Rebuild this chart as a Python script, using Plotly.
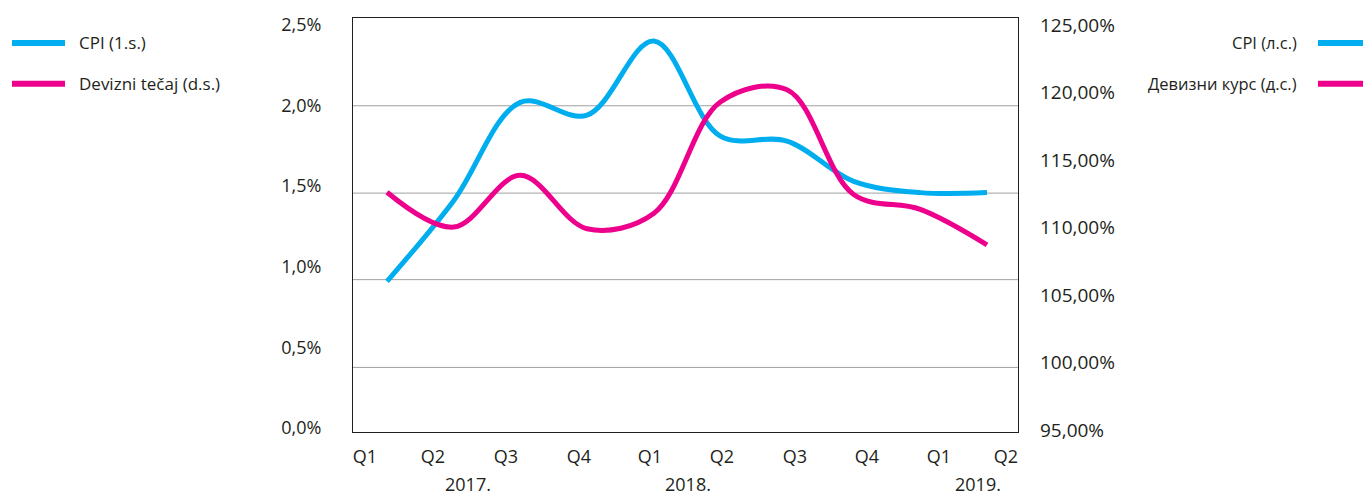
import plotly.graph_objects as go

# ---- data ----
quarters = ["Q1", "Q2", "Q3", "Q4", "Q1", "Q2", "Q3", "Q4", "Q1", "Q2"]
years = ["2017.", "2018.", "2019."]
cpi = [0.91, 1.41, 2.02, 1.94, 2.40, 1.81, 1.78, 1.53, 1.46, 1.46]          # left axis, %
fx_rate = [112.61, 110.03, 113.86, 109.91, 111.04, 119.30, 120.20, 112.44, 111.34, 108.71]  # right axis, %

left_ticks = [0.0, 0.5, 1.0, 1.5, 2.0, 2.5]
right_ticks = [95, 100, 105, 110, 115, 120, 125]
left_ticktext = [f"{v:.1f}%".replace(".", ",") for v in left_ticks]
right_ticktext = [f"{v:.2f}%".replace(".", ",") for v in right_ticks]

legend_left = ["CPI (1.s.)", "Devizni tečaj (d.s.)"]
legend_right = ["CPI (л.с.)", "Девизни курс (д.с.)"]

# ---- layout helpers (positions / styles) ----
x_idx = list(range(len(quarters)))
q_tick_pos = [-0.33, 0.69, 1.785, 2.88, 3.945, 5.025, 6.12, 7.2, 8.28, 9.285]
year_pos = [1.215, 4.515, 8.865]
grid_paper_y = [0.156, 0.368, 0.577, 0.788]

CYAN = "#00AEEF"
MAGENTA = "#EC008C"
TXT = "#231F20"
FONT = "Open Sans"

fig = go.Figure()
fig.add_trace(go.Scatter(x=x_idx, y=cpi, mode="lines", name=legend_left[0],
                         line=dict(color=CYAN, width=5, shape="spline", smoothing=1.0),
                         showlegend=False, yaxis="y", hoverinfo="skip"))
fig.add_trace(go.Scatter(x=x_idx, y=fx_rate, mode="lines", name=legend_left[1],
                         line=dict(color=MAGENTA, width=5, shape="spline", smoothing=1.0),
                         showlegend=False, yaxis="y2", hoverinfo="skip"))

shapes = []
for gy in grid_paper_y:
    shapes.append(dict(type="line", xref="paper", yref="paper", x0=0, x1=1, y0=gy, y1=gy,
                       line=dict(color="#A0A0A0", width=1), layer="below"))

annotations = []
# left legend
for i, (lab, col) in enumerate(zip(legend_left, [CYAN, MAGENTA])):
    yy = [0.9399, 0.8413][i]
    shapes.append(dict(type="line", xref="paper", yref="paper", x0=-0.5128, x1=-0.4331,
                       y0=yy, y1=yy, line=dict(color=col, width=6)))
    annotations.append(dict(text=lab, xref="paper", yref="paper", x=-0.415, y=yy,
                            xanchor="left", yanchor="middle", showarrow=False,
                            font=dict(family=FONT, size=17, color=TXT)))
# right legend
for i, (lab, col) in enumerate(zip(legend_right, [CYAN, MAGENTA])):
    yy = [0.9399, 0.8413][i]
    shapes.append(dict(type="line", xref="paper", yref="paper", x0=1.4511, x1=1.52,
                       y0=yy, y1=yy, line=dict(color=col, width=6)))
    annotations.append(dict(text=lab, xref="paper", yref="paper", x=1.4226, y=yy,
                            xanchor="right", yanchor="middle", showarrow=False,
                            font=dict(family=FONT, size=16.5, color=TXT)))
# year labels
for yl, xp in zip(years, year_pos):
    annotations.append(dict(text=yl, xref="x", yref="paper", x=xp, y=-0.125,
                            xanchor="center", yanchor="middle", showarrow=False,
                            font=dict(family=FONT, size=18, color=TXT)))

fig.update_layout(
    width=1363, height=495,
    margin=dict(l=353, r=345, t=16, b=63),
    paper_bgcolor="white", plot_bgcolor="white",
    font=dict(family=FONT, size=18, color=TXT),
    shapes=shapes, annotations=annotations,
    xaxis=dict(range=[-0.51, 9.465], tickvals=q_tick_pos, ticktext=quarters,
               showgrid=False, zeroline=False, showline=True, mirror=True,
               linecolor="#231F20", linewidth=1, ticks="", ticklabelstandoff=8,
               tickfont=dict(family=FONT, size=18, color=TXT)),
    yaxis=dict(range=[-0.0247, 2.543], tickvals=left_ticks, ticktext=left_ticktext,
               showgrid=False, zeroline=False, showline=True, mirror=True,
               linecolor="#231F20", linewidth=1, ticks="", ticklabelstandoff=27,
               tickfont=dict(family=FONT, size=18, color=TXT)),
    yaxis2=dict(range=[94.853, 125.516], tickvals=right_ticks, ticktext=right_ticktext,
                overlaying="y", side="right", showgrid=False, zeroline=False, showline=False,
                ticks="", ticklabelstandoff=21,
                tickfont=dict(family=FONT, size=19, color=TXT)),
)

fig.write_html("out.html", config={"displayModeBar": False},
               post_script="document.body.style.margin='0';document.body.style.overflow='hidden';")
